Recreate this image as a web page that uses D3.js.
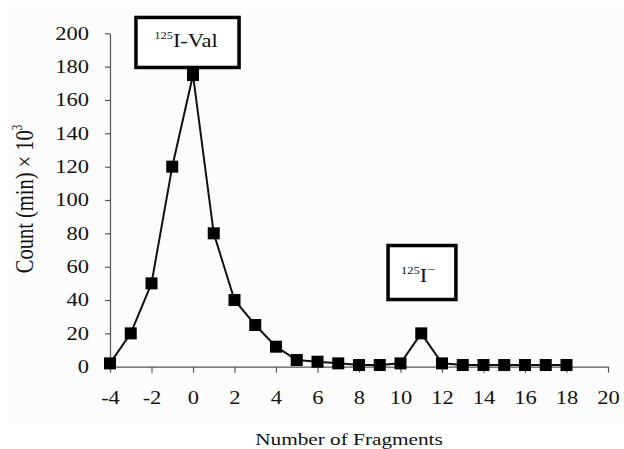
<!DOCTYPE html>
<html>
<head>
<meta charset="utf-8">
<script src="https://cdn.jsdelivr.net/npm/d3@7"></script>
<style>
    body { margin: 0; background: #fff; }
    svg text { font-family: "Liberation Serif", "Times New Roman", serif; fill: #111; }
</style>
</head>
<body>
<svg id="chart" width="624" height="449"></svg>
<script>
// data
const fragments = [-4, -3, -2, -1, 0, 1, 2, 3, 4, 5, 6, 7, 8, 9, 10, 11, 12, 13, 14, 15, 16, 17, 18];
const counts = [2, 20, 50, 120, 175, 80, 40, 25, 12, 4, 3, 2, 1, 1, 2, 20, 2, 1, 1, 1, 1, 1, 1];
const xTicks = [-4, -2, 0, 2, 4, 6, 8, 10, 12, 14, 16, 18, 20];
const yTicks = [0, 20, 40, 60, 80, 100, 120, 140, 160, 180, 200];

const points = fragments.map((f, i) => ({ x: f, y: counts[i] }));

// the source figure is stretched sideways, so text is widened to match
const stretch = 1.25;
const fontSize = 18;

const svg = d3.select("#chart");

// faint page tint behind the chart
svg.append("rect")
    .attr("x", 8).attr("y", 7)
    .attr("width", 616).attr("height", 416)
    .attr("fill", "#fcfcfc");

const x = d3.scaleLinear().domain([-4, 20]).range([110, 608]);
const y = d3.scaleLinear().domain([0, 200]).range([366.7, 33.3]);

// axes
const xAxis = d3.axisBottom(x).tickValues(xTicks).tickSize(6).tickSizeOuter(0).tickFormat((d) => String(d));
const yAxis = d3.axisLeft(y).tickValues(yTicks).tickSize(5).tickSizeOuter(0).tickFormat((d) => String(d));

const gx = svg.append("g").attr("transform", `translate(0,${y(0)})`).call(xAxis);
const gy = svg.append("g").attr("transform", `translate(${x(-4)},0)`).call(yAxis);

[gx, gy].forEach((g) => {
    g.select(".domain").attr("stroke", "#555").attr("stroke-width", 1.2);
    g.selectAll(".tick line").attr("stroke", "#555").attr("stroke-width", 1.2);
    g.selectAll(".tick text")
        .attr("font-size", fontSize)
        .attr("font-family", "Liberation Serif, serif")
        .attr("fill", "#111")
        .attr("transform", `scale(${stretch},1)`);
});
gx.selectAll(".tick text").attr("y", 25).attr("dy", "0.71em");
gy.selectAll(".tick text").attr("x", -21 / stretch);

// axis titles
svg.append("g")
    .attr("transform", `translate(349,445) scale(${stretch},1)`)
    .append("text")
    .attr("text-anchor", "middle")
    .attr("font-size", 17)
    .text("Number of Fragments");

const yTitle = svg.append("g")
    .attr("transform", `translate(33,199) rotate(-90) scale(1,${stretch})`)
    .append("text")
    .attr("text-anchor", "middle")
    .attr("font-size", 20.5);
yTitle.append("tspan").text("Count (min) \u00d7 10");
yTitle.append("tspan").attr("font-size", 11).attr("dy", -9).text("3");

// annotation boxes
const boxes = [
    { x0: -2.75, x1: 2.22, top: 209.5, bottom: 179.5, main: "I-Val", charge: "", tx: 186, ty: 47 },
    { x0: 9.4, x1: 12.67, top: 72.7, bottom: 40.3, main: "I", charge: "\u2212", tx: 418, ty: 282 }
];
boxes.forEach((b) => {
    svg.append("rect")
        .attr("x", x(b.x0)).attr("y", y(b.top))
        .attr("width", x(b.x1) - x(b.x0))
        .attr("height", y(b.bottom) - y(b.top))
        .attr("fill", "#fff")
        .attr("stroke", "#000")
        .attr("stroke-width", 3.5);
    const t = svg.append("g")
        .attr("transform", `translate(${b.tx},${b.ty}) scale(${stretch},1)`)
        .append("text")
        .attr("text-anchor", "middle")
        .attr("font-size", fontSize);
    t.append("tspan").attr("font-size", 10).attr("dy", -8).text("125");
    t.append("tspan").attr("dy", 8).text(b.main);
    if (b.charge) t.append("tspan").attr("font-size", 11).attr("dy", -9).text(b.charge);
});

// line + markers
const line = d3.line().x((d) => x(d.x)).y((d) => y(d.y));
svg.append("path")
    .datum(points)
    .attr("d", line)
    .attr("fill", "none")
    .attr("stroke", "#111")
    .attr("stroke-width", 2);

const size = 12;
svg.selectAll("rect.marker")
    .data(points)
    .enter()
    .append("rect")
    .attr("class", "marker")
    .attr("x", (d) => x(d.x) - size / 2)
    .attr("y", (d) => y(d.y) - size / 2)
    .attr("width", size)
    .attr("height", size)
    .attr("fill", "#000");
</script>
</body>
</html>
